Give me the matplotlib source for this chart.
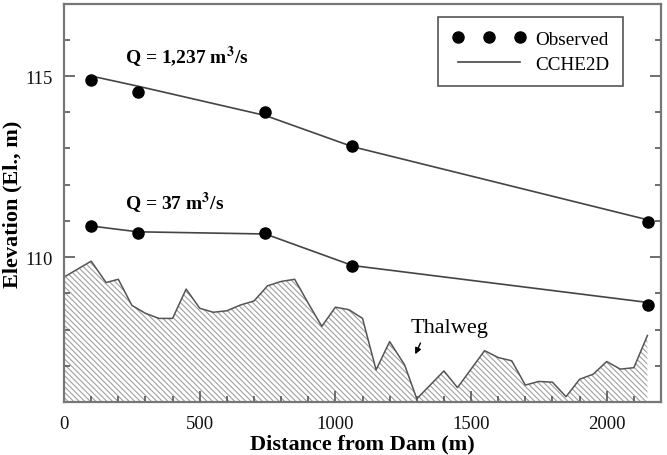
import matplotlib
matplotlib.use("Agg")
import matplotlib.pyplot as plt
from matplotlib.ticker import MultipleLocator

plt.rcParams['font.family'] = ['Liberation Serif', 'DejaVu Serif']
plt.rcParams['mathtext.fontset'] = 'stix'
plt.rcParams['hatch.linewidth'] = 0.8

# Thalweg profile
thalweg_x = [0, 100, 155, 200, 250, 300, 350, 400, 450, 500, 550, 600, 650, 700,
             750, 800, 850, 900, 950, 1000, 1050, 1100, 1150, 1200, 1255, 1300,
             1400, 1450, 1550, 1600, 1650, 1700, 1750, 1800, 1850, 1900, 1950,
             2000, 2050, 2100, 2150]
thalweg_y = [109.45, 109.89, 109.30, 109.39, 108.67, 108.45, 108.31, 108.31, 109.12,
             108.59, 108.48, 108.52, 108.68, 108.79, 109.21, 109.33, 109.39, 108.73,
             108.09, 108.62, 108.55, 108.31, 106.89, 107.67, 107.03, 106.09, 106.86,
             106.40, 107.42, 107.23, 107.14, 106.47, 106.57, 106.55, 106.15, 106.63,
             106.77, 107.12, 106.91, 106.95, 107.84]

# Observed and simulated water surface
obs_x = [100, 272, 742, 1063, 2152]
obs_high = [114.89, 114.56, 114.02, 113.08, 110.96]
obs_low = [110.86, 110.67, 110.66, 109.77, 108.67]
model_high = [115.00, 114.72, 113.91, 113.05, 111.03]
model_low = [110.86, 110.70, 110.64, 109.77, 108.75]

fig = plt.figure(figsize=(6.67, 4.56), dpi=100)
ax = fig.add_axes([0.096, 0.116, 0.895, 0.874])

ax.fill_between(thalweg_x, thalweg_y, 106, facecolor='white', edgecolor='#a0a0a0',
                hatch='\\' * 6, linewidth=0)
ax.plot(thalweg_x, thalweg_y, color='#555555', lw=1.1)

ax.plot(obs_x, model_high, color='#444444', lw=1.2, label='CCHE2D')
ax.plot(obs_x, model_low, color='#444444', lw=1.2)
ax.plot(obs_x, obs_high, 'o', color='black', ms=8, ls='none', label='Observed')
ax.plot(obs_x, obs_low, 'o', color='black', ms=8, ls='none')

ax.set_xlim(0, 2200)
ax.set_ylim(106, 117)
ax.xaxis.set_major_locator(MultipleLocator(500))
ax.xaxis.set_minor_locator(MultipleLocator(100))
ax.yaxis.set_major_locator(MultipleLocator(5))
ax.yaxis.set_minor_locator(MultipleLocator(1))
ax.tick_params(which='both', direction='in', top=False, right=True, colors='#555555',
               labelcolor='#111111')
ax.tick_params(which='major', length=8, width=1.2, labelsize=13.5)
ax.tick_params(which='minor', length=4, width=1.2)
ax.tick_params(axis='x', pad=9)
ax.tick_params(axis='y', pad=8)
for s in ax.spines.values():
    s.set_color('#777777')
    s.set_linewidth(1.6)

ax.set_xlabel('Distance from Dam (m)', fontsize=16, fontweight='bold', labelpad=1)
ax.set_ylabel('Elevation (El., m)', fontsize=16, fontweight='bold', labelpad=2)

ax.text(225, 115.55, r'Q = 1,237 m$^{\mathbf{3}}$/s', fontsize=14, fontweight='bold',
        va='center', ha='left')
ax.text(225, 111.50, r'Q = 37 m$^{\mathbf{3}}$/s', fontsize=14, fontweight='bold',
        va='center', ha='left')
ax.text(1276, 108.05, 'Thalweg', fontsize=16, va='center', ha='left')
ax.annotate('', xy=(1290, 107.25), xytext=(1318, 107.70),
            arrowprops=dict(arrowstyle='-|>', color='black', lw=1, mutation_scale=9))

handles, labels = ax.get_legend_handles_labels()
leg = ax.legend([handles[1], handles[0]], [labels[1], labels[0]], loc='upper right',
                bbox_to_anchor=(0.936, 0.967), borderaxespad=0, numpoints=3,
                handlelength=3.85, fontsize=13.8, fancybox=False, edgecolor='#555555',
                framealpha=1, handletextpad=0.5, borderpad=0.7, labelspacing=0.4)
leg.get_frame().set_linewidth(1.2)

fig.savefig('out.png', dpi=100)
